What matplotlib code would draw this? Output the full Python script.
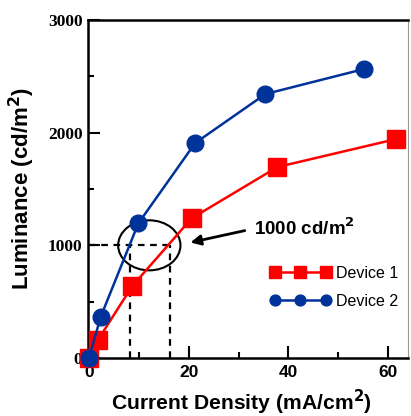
import matplotlib
matplotlib.use("Agg")
import matplotlib.pyplot as plt
from matplotlib.patches import Ellipse
from matplotlib.ticker import MultipleLocator

# Data
dev1_x = [0, 1.8, 8.7, 20.6, 37.8, 61.6]
dev1_y = [0, 160, 640, 1240, 1695, 1943]
dev2_x = [0, 2.35, 9.9, 21.3, 35.4, 55.1]
dev2_y = [0, 366, 1195, 1908, 2343, 2564]
labels = ["Device 1", "Device 2"]
x_ticks = [0, 20, 40, 60]
y_ticks = [0, 1000, 2000, 3000]
ref_level = 1000
ref_x = [8.25, 16.3]

red = "#FF0000"
blue = "#003399"

fig = plt.figure(figsize=(4.11, 4.16), dpi=100)
ax = fig.add_axes([88/411, 58/416, 320/411, 338/416])

ax.plot(dev1_x, dev1_y, color=red, lw=1.8, marker="s", ms=12.5, mec=red, mfc=red,
        label=labels[0], zorder=4, clip_on=False)
ax.plot(dev2_x, dev2_y, color=blue, lw=1.8, marker="o", ms=12, mec=blue, mfc=blue,
        label=labels[1], zorder=5, clip_on=False)

dash = dict(color="black", lw=1.6, ls=(0, (3, 2.5)), zorder=3)
ax.plot([0, ref_x[1]], [ref_level, ref_level], **dash)
for xv in ref_x:
    ax.plot([xv, xv], [0, ref_level], **dash)

ax.add_patch(Ellipse((12.1, 1000), 12.5, 444, fill=False, ec="black", lw=1.5, zorder=3))

ax.annotate("", xy=(19.8, 1020), xytext=(31.8, 1136),
            arrowprops=dict(arrowstyle="-|>,head_length=0.6,head_width=0.3", color="black", lw=2))
ax.text(33.2, 1150, "1000 cd/m$^\\mathbf{2}$", fontsize=13.5, fontweight="bold",
        family="Liberation Sans", va="center", ha="left")

ax.set_xlim(-0.2, 64.0)
ax.set_ylim(0, 3000)
ax.set_xticks(x_ticks)
ax.set_yticks(y_ticks)
ax.xaxis.set_minor_locator(MultipleLocator(10))
ax.yaxis.set_minor_locator(MultipleLocator(500))
ax.tick_params(which="major", direction="in", length=8.5, width=1.5)
ax.tick_params(which="minor", direction="in", length=4.5, width=1.5)
ax.tick_params(axis="x", pad=5)
ax.tick_params(axis="y", pad=4)
for t in ax.get_xticklabels():
    t.set_fontfamily("Liberation Sans"); t.set_fontweight("bold"); t.set_fontsize(12.5)
for t in ax.get_yticklabels():
    t.set_fontfamily("Liberation Serif"); t.set_fontweight("bold"); t.set_fontsize(12.5)

for s in ["left", "bottom", "top"]:
    ax.spines[s].set_linewidth(1.8)
    ax.spines[s].set_color("black")
ax.spines["right"].set_linewidth(0.8)
ax.spines["right"].set_color("#999999")

ax.set_xlabel("Current Density (mA/cm$^\\mathbf{2}$)", fontsize=15.2, fontweight="bold",
              family="Liberation Sans")
ax.xaxis.set_label_coords(0.48, -0.155)
ax.xaxis.label.set_va("baseline")
ax.set_ylabel("Luminance (cd/m$^\\mathbf{2}$)", fontsize=16, fontweight="bold",
              family="Liberation Sans", labelpad=8)

leg = ax.legend(loc="upper left", bbox_to_anchor=(0.569, 0.272), frameon=False,
                handlelength=3.8, handletextpad=0.35, labelspacing=0.8, borderpad=0,
                borderaxespad=0, numpoints=3, markerscale=0.65,
                prop={"family": "Liberation Sans", "size": 11.5})
for line in leg.get_lines():
    line.set_linewidth(1.8)

fig.savefig("out.png", dpi=100)
